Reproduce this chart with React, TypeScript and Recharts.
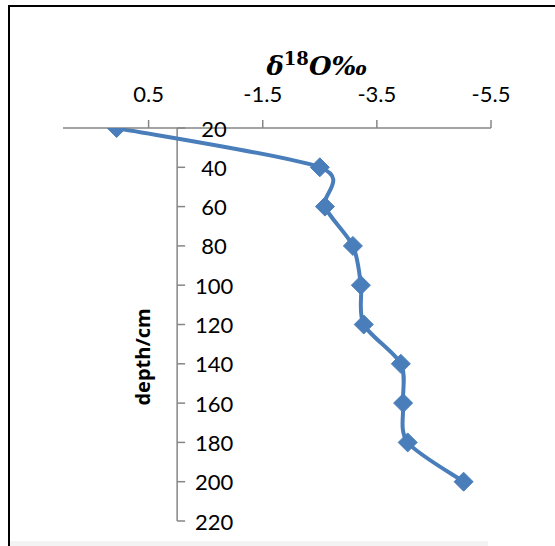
import React from 'react';
import { LineChart, Line, XAxis, YAxis, ReferenceLine } from 'recharts';

// depth (cm) and delta 18O (permil)
const depths = [20, 40, 60, 80, 100, 120, 140, 160, 180, 200];
const d18O = [1.06, -2.5, -2.59, -3.08, -3.22, -3.27, -3.92, -3.96, -4.04, -5.02];
const xTicks = [0.5, -1.5, -3.5, -5.5];
const yTicks = [20, 40, 60, 80, 100, 120, 140, 160, 180, 200, 220];
const xDomain: [number, number] = [-5.5, 2];
const yDomain: [number, number] = [20, 220];

const data = depths.map((depth, i) => ({ depth, value: d18O[i] }));

const W = 555;
const H = 546;
const margin = { top: 98, right: 64, bottom: 25, left: 62 };
const X_AXIS_H = 30;
const Y_AXIS_W = 1;
const PLOT_W = W - margin.left - Y_AXIS_W - margin.right;
const AXIS = '#868686';
const BLUE = '#4a7ebb';
const FONT = 'Lato, "Open Sans", sans-serif';

// x pixel where the value axis crosses 0 (depth axis sits there, like Excel's "crosses at 0")
const X0 = margin.left + Y_AXIS_W + ((xDomain[1] - 0) / (xDomain[1] - xDomain[0])) * PLOT_W;

// Excel-style smoothed line: Catmull-Rom through the points
function excelSmooth(context: any) {
  let pts: [number, number][] = [];
  return {
    areaStart() {},
    areaEnd() {},
    lineStart() {
      pts = [];
    },
    point(x: number, y: number) {
      pts.push([+x, +y]);
    },
    lineEnd() {
      if (!pts.length) return;
      context.moveTo(pts[0][0], pts[0][1]);
      for (let i = 0; i < pts.length - 1; i++) {
        const p0 = pts[Math.max(i - 1, 0)];
        const p1 = pts[i];
        const p2 = pts[i + 1];
        const p3 = pts[Math.min(i + 2, pts.length - 1)];
        context.bezierCurveTo(
          p1[0] + (p2[0] - p0[0]) / 7,
          p1[1] + (p2[1] - p0[1]) / 7,
          p2[0] - (p3[0] - p1[0]) / 7,
          p2[1] - (p3[1] - p1[1]) / 7,
          p2[0],
          p2[1],
        );
      }
    },
  };
}

function DepthTick(props: any) {
  const { y, payload } = props;
  return (
    <g>
      <line x1={X0} x2={X0 + 8} y1={y} y2={y} stroke={AXIS} strokeWidth={1.5} />
      <text x={X0 + 37} y={y} textAnchor="middle" dominantBaseline="central" fontSize={22} fill="#000" fontFamily={FONT}>
        {payload.value}
      </text>
    </g>
  );
}

function Diamond(props: any) {
  const { cx, cy } = props;
  if (cx == null || cy == null) return null;
  const r = 9.5;
  return (
    <polygon
      points={`${cx},${cy - r} ${cx + r},${cy} ${cx},${cy + r} ${cx - r},${cy}`}
      fill={BLUE}
      stroke={BLUE}
      strokeWidth={1}
    />
  );
}

export default function App() {
  return (
    <div style={{ position: 'absolute', left: 0, top: 0, width: W, height: H, background: '#fff', overflow: 'hidden' }}>
      <div style={{ position: 'absolute', left: 8, top: 5, width: W, height: H, borderTop: '2px solid #000', borderLeft: '2px solid #000' }} />
      <div style={{ position: 'absolute', left: 10, top: 541, width: 478, height: 5, background: '#f3f3f3' }} />
      <div style={{ position: 'absolute', left: 0, top: 0 }}>
        <LineChart width={W} height={H} data={data} layout="vertical" margin={margin}>
          <XAxis
            type="number"
            dataKey="value"
            orientation="top"
            domain={xDomain}
            ticks={xTicks}
            reversed
            height={X_AXIS_H}
            axisLine={{ stroke: AXIS, strokeWidth: 1.5 }}
            tickLine={{ stroke: AXIS, strokeWidth: 1.5 }}
            tickSize={8}
            tickMargin={18}
            tick={{ fill: '#000', fontSize: 22, fontFamily: FONT }}
            allowDataOverflow
          />
          <YAxis
            type="number"
            dataKey="depth"
            domain={yDomain}
            ticks={yTicks}
            interval={0}
            width={Y_AXIS_W}
            axisLine={false}
            tickLine={false}
            tick={DepthTick}
            allowDataOverflow
          />
          <ReferenceLine x={0} stroke={AXIS} strokeWidth={1.5} />
          <Line
            type={excelSmooth as any}
            dataKey="value"
            stroke={BLUE}
            strokeWidth={4}
            dot={<Diamond />}
            activeDot={false}
            isAnimationActive={false}
          />
        </LineChart>
      </div>
      <div
        style={{
          position: 'absolute',
          left: 0,
          top: 44,
          width: 634,
          textAlign: 'center',
          fontFamily: '"DejaVu Serif", "Liberation Serif", serif',
          fontStyle: 'italic',
          fontWeight: 'bold',
          fontSize: 26,
          lineHeight: '30px',
        }}
      >
        δ<sup style={{ fontSize: 18, fontStyle: 'normal' }}>18</sup>O‰
      </div>
      <div
        style={{
          position: 'absolute',
          left: 142,
          top: 357,
          transform: 'translate(-50%, -50%) rotate(-90deg)',
          fontFamily: '"Open Sans", sans-serif',
          fontWeight: 'bold',
          fontSize: 20,
          whiteSpace: 'nowrap',
        }}
      >
        depth/cm
      </div>
    </div>
  );
}
